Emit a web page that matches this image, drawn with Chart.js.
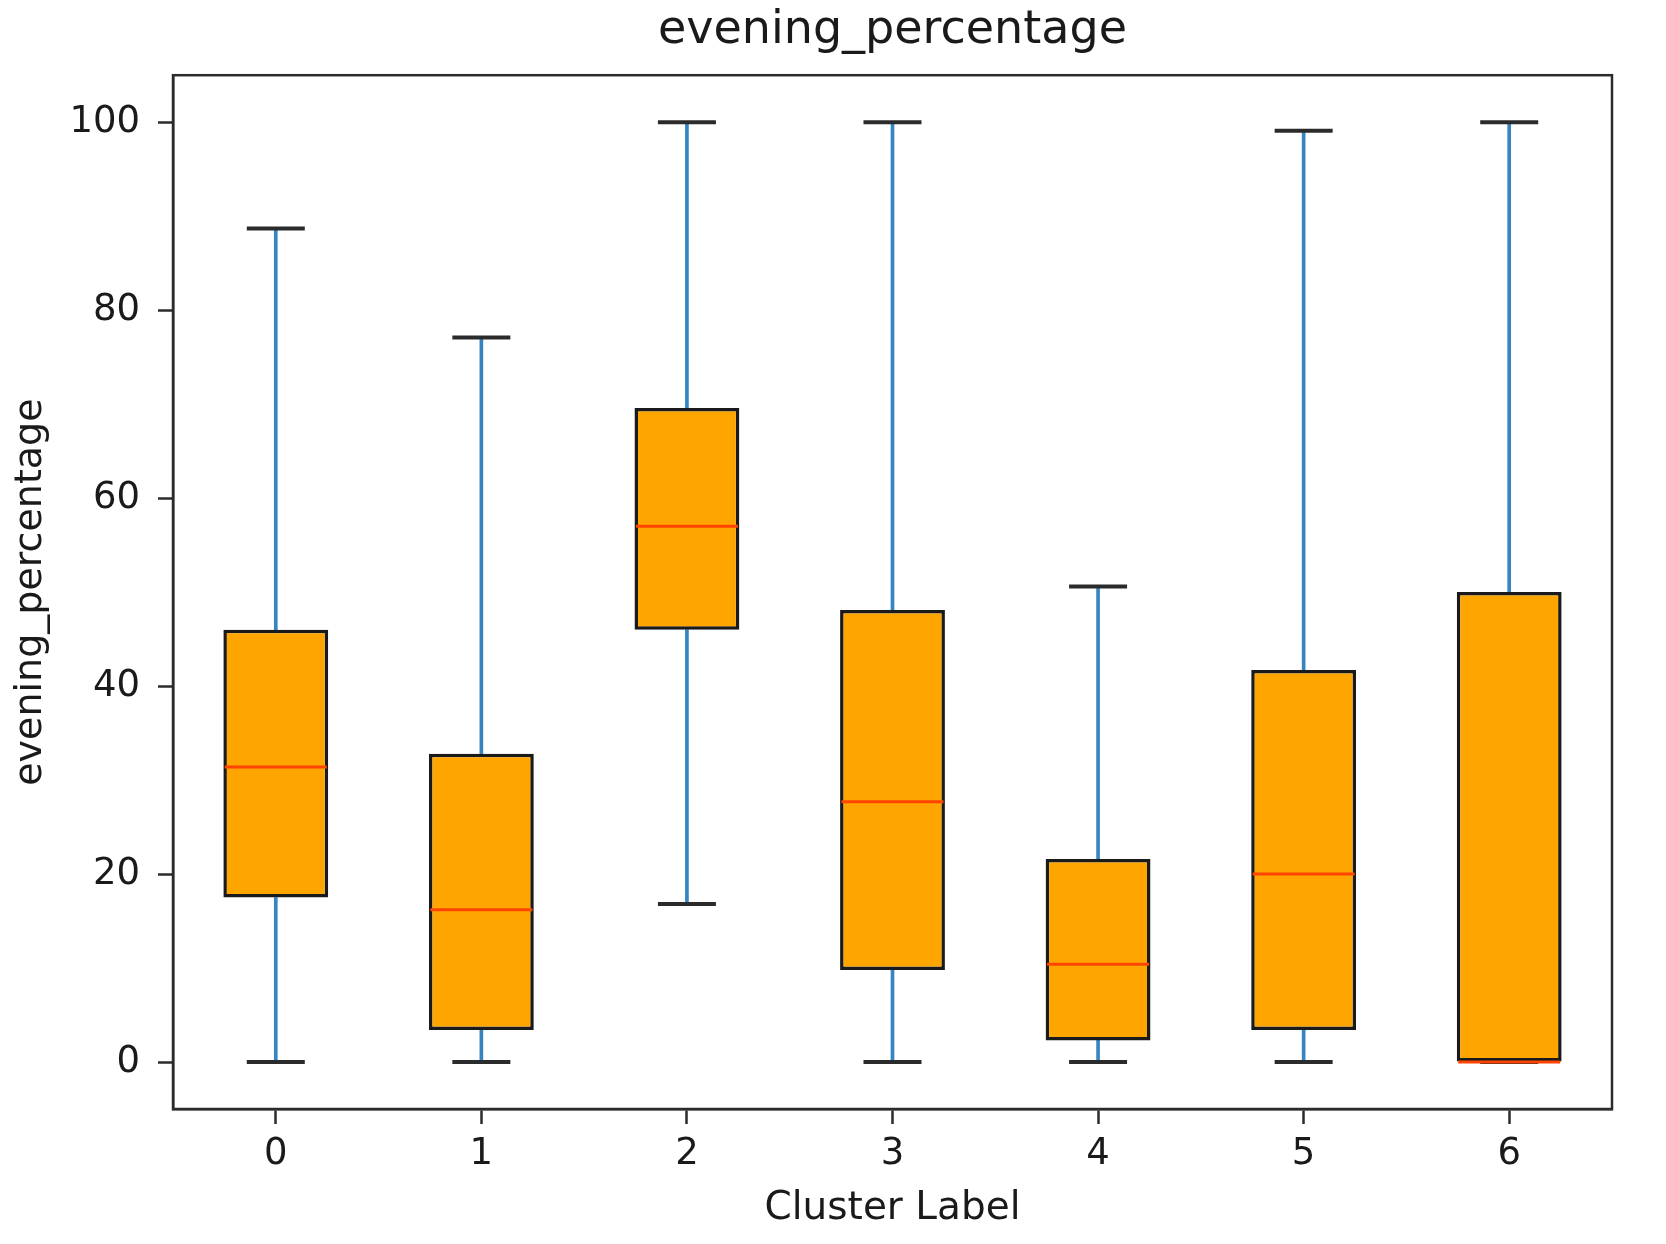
<!DOCTYPE html>
<html>
<head>
<meta charset="utf-8">
<script src="https://cdn.jsdelivr.net/npm/chart.js@4"></script>
<style>
  html, body { margin: 0; padding: 0; background: #fff; overflow: hidden; }
  #wrap { width: 1666px; height: 1244px; }
  canvas { display: block; }
</style>
</head>
<body>
<div id="wrap"><canvas id="chart" width="1666" height="1244"></canvas></div>
<script>
const clusters = ["0", "1", "2", "3", "4", "5", "6"];
const whiskerLow = [0, 0, 16.8, 0, 0, 0, 0];
const q1 = [17.5, 3.4, 46.0, 9.8, 2.3, 3.4, 0];
const median = [31.4, 16.2, 57.0, 27.7, 10.4, 20.0, 0];
const q3 = [46.0, 32.8, 69.6, 48.1, 21.6, 41.7, 50.0];
const whiskerHigh = [88.7, 77.1, 100, 100, 50.6, 99.1, 100];
const yTicks = [0, 20, 40, 60, 80, 100];

const FONT = "'DejaVu Sans', sans-serif";
const AXIS_COLOR = "#2b2b2b";

// matplotlib puts the title over the axes, not the whole figure
const titleOverAxes = {
  id: "titleOverAxes",
  afterLayout(chart) {
    const t = chart.titleBlock;
    if (!t) return;
    t.left = chart.chartArea.left;
    t.right = chart.chartArea.right;
    t.width = t.right - t.left;
  },
};

// box outline on top/right (matplotlib style frame)
const framePlugin = {
  id: "frame",
  afterDatasetsDraw(chart) {
    const { ctx, chartArea } = chart;
    ctx.save();
    ctx.strokeStyle = AXIS_COLOR;
    ctx.lineWidth = 2.5;
    ctx.strokeRect(chartArea.left, chartArea.top,
      chartArea.right - chartArea.left, chartArea.bottom - chartArea.top);
    ctx.restore();
  },
};

const lowerWhiskers = clusters.map((_, i) => [whiskerLow[i], q1[i]]);
const upperWhiskers = clusters.map((_, i) => [q3[i], whiskerHigh[i]]);
const boxes = clusters.map((_, i) => [q1[i], q3[i]]);

new Chart(document.getElementById("chart"), {
  type: "bar",
  data: {
    labels: clusters,
    datasets: [
      {
        type: "line",
        label: "median",
        data: median,
        showLine: false,
        pointStyle: "line",
        pointRadius: 51,
        pointHoverRadius: 51,
        pointBorderWidth: 3,
        pointHoverBorderWidth: 3,
        pointBorderColor: "#ff4500",
        order: 0,
      },
      {
        label: "box",
        data: boxes,
        backgroundColor: "#ffa500",
        borderColor: "#1a1a1a",
        borderWidth: 3.5,
        borderSkipped: false,
        barPercentage: 0.51,
        categoryPercentage: 1,
        grouped: false,
        order: 1,
      },
      {
        type: "line",
        label: "caps low",
        data: whiskerLow,
        showLine: false,
        pointStyle: "line",
        pointRadius: 29,
        pointHoverRadius: 29,
        pointBorderWidth: 4,
        pointHoverBorderWidth: 4,
        pointBorderColor: "#2b2b2b",
        order: 2,
      },
      {
        type: "line",
        label: "caps high",
        data: whiskerHigh,
        showLine: false,
        pointStyle: "line",
        pointRadius: 29,
        pointHoverRadius: 29,
        pointBorderWidth: 4,
        pointHoverBorderWidth: 4,
        pointBorderColor: "#2b2b2b",
        order: 2,
      },
      {
        label: "whisker low",
        data: lowerWhiskers,
        backgroundColor: "#3585c2",
        borderWidth: 0,
        barThickness: 3,
        grouped: false,
        order: 3,
      },
      {
        label: "whisker high",
        data: upperWhiskers,
        backgroundColor: "#3585c2",
        borderWidth: 0,
        barThickness: 3,
        grouped: false,
        order: 3,
      },
    ],
  },
  options: {
    responsive: false,
    animation: false,
    events: [],
    layout: { padding: { left: 0, right: 19, top: 0, bottom: 0 } },
    plugins: {
      legend: { display: false },
      tooltip: { enabled: false },
      title: {
        display: true,
        text: "evening_percentage",
        color: "#1a1a1a",
        font: { family: FONT, size: 46, weight: "normal" },
        padding: { top: 3, bottom: 17 },
      },
    },
    scales: {
      x: {
        type: "category",
        offset: true,
        grid: {
          display: true,
          drawOnChartArea: false,
          drawTicks: true,
          tickLength: 15,
          tickWidth: 2.5,
          tickColor: AXIS_COLOR,
          offset: false,
        },
        border: { display: true, color: AXIS_COLOR, width: 2.5 },
        ticks: {
          color: "#1a1a1a",
          padding: 8,
          font: { family: FONT, size: 37 },
        },
        title: {
          display: true,
          text: "Cluster Label",
          color: "#1a1a1a",
          font: { family: FONT, size: 39 },
          padding: { top: 0, bottom: 12 },
        },
        afterFit(scale) {
          scale.height = 135;
        },
      },
      y: {
        type: "linear",
        min: -5,
        max: 105,
        grid: {
          display: true,
          drawOnChartArea: false,
          drawTicks: true,
          tickLength: 15,
          tickWidth: 2.5,
          tickColor: AXIS_COLOR,
        },
        border: { display: true, color: AXIS_COLOR, width: 2.5 },
        ticks: {
          color: "#1a1a1a",
          padding: 18,
          font: { family: FONT, size: 37 },
        },
        afterBuildTicks(scale) {
          scale.ticks = yTicks.map((v) => ({ value: v }));
        },
        title: {
          display: true,
          text: "evening_percentage",
          color: "#1a1a1a",
          font: { family: FONT, size: 38 },
          padding: { top: 8, bottom: 0 },
        },
        afterFit(scale) {
          scale.width = 173;
        },
      },
    },
  },
  plugins: [titleOverAxes, framePlugin],
});
</script>
</body>
</html>
